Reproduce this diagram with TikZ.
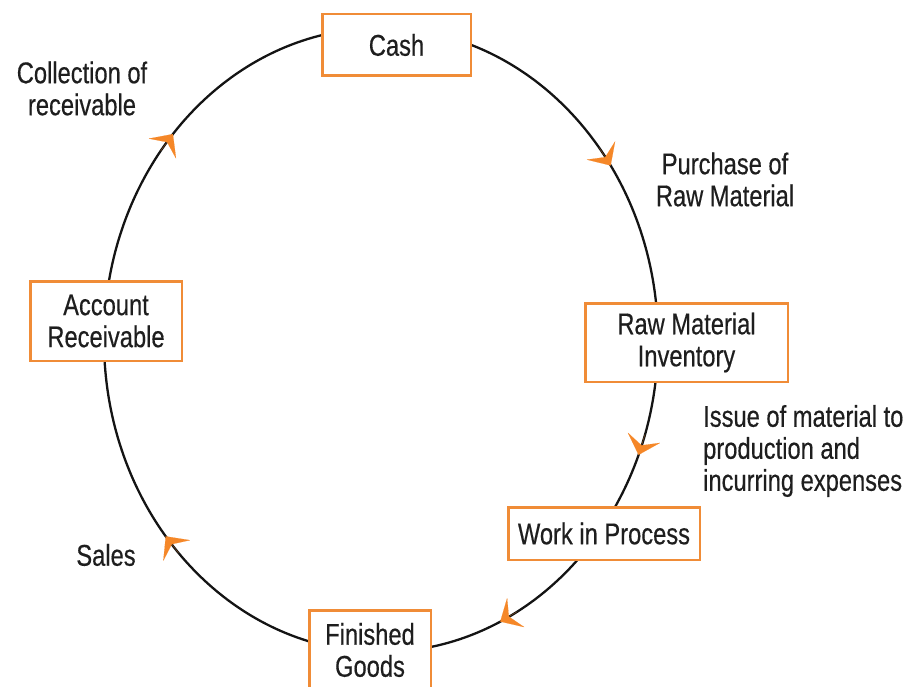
\documentclass[tikz,border=0pt]{standalone}
\usepackage{fontspec}
\setmainfont{Liberation Sans}[FakeStretch=0.79,FakeBold=0.4]
\usetikzlibrary{arrows.meta}
\definecolor{boxorange}{RGB}{240,140,55}
\definecolor{arrorange}{RGB}{245,135,40}
\definecolor{txt}{RGB}{30,30,30}
\begin{document}
\begin{tikzpicture}[x=1pt,y=1pt,
  every node/.style={text=txt, font=\fontsize{30}{32}\selectfont},
  stage/.style={draw=boxorange, line width=2.5pt, fill=white, align=center, inner sep=0pt},
  lbl/.style={inner sep=0pt},
  cycleline/.style={draw=black!92, line width=2.3pt},
  flow/.style={draw=arrorange, line width=0.1pt, -{Stealth[length=18pt,width=34pt,inset=8pt,round]}}
]
\useasboundingbox (0,0) rectangle (915,-687);
\coordinate (c) at (381,-340);
% the cycle
\draw[cycleline] (c) ellipse [x radius=277, y radius=312];
% flow arrowheads (clockwise)
\path (c) ++(38:277 and 312) coordinate (f1s);
\path (c) ++(34:277 and 312) coordinate (f1);
\path (c) ++(-17.6:277 and 312) coordinate (f2s);
\path (c) ++(-21.6:277 and 312) coordinate (f2);
\path (c) ++(-60.5:277 and 312) coordinate (f3s);
\path (c) ++(-64.5:277 and 312) coordinate (f3);
\path (c) ++(-137:277 and 312) coordinate (f4s);
\path (c) ++(-141:277 and 312) coordinate (f4);
\path (c) ++(142.7:277 and 312) coordinate (f5s);
\path (c) ++(138.7:277 and 312) coordinate (f5);
\draw[flow] (f1s) -- (f1);
\draw[flow] (f2s) -- (f2);
\draw[flow] (f3s) -- (f3);
\draw[flow] (f4s) -- (f4);
\draw[flow] (f5s) -- (f5);
% stages
\node[stage, minimum width=148.5pt, minimum height=61.5pt] (cash) at (396.5,-45) {Cash};
\node[stage, minimum width=202.5pt, minimum height=78.5pt] (rmi) at (686.5,-342.5) {Raw Material\\Inventory};
\node[stage, minimum width=191.5pt, minimum height=52.5pt] (wip) at (604,-533.5) {Work in Process};
\node[stage, minimum width=121.5pt, minimum height=79.5pt] (fg) at (370,-650) {Finished\\Goods};
\node[stage, minimum width=151.5pt, minimum height=79.5pt] (ar) at (106,-321) {Account\\Receivable};
% labels
\node[lbl, align=center] (l1) at (725,-179.5) {Purchase of\\Raw Material};
\node[lbl, align=left, anchor=west] (l2) at (703,-451) {Issue of material to\\production and\\incurring expenses};
\node[lbl] (l4) at (106,-555) {Sales};
\node[lbl, align=center] (l5) at (82,-88.5) {Collection of\\receivable};
\end{tikzpicture}
\end{document}
